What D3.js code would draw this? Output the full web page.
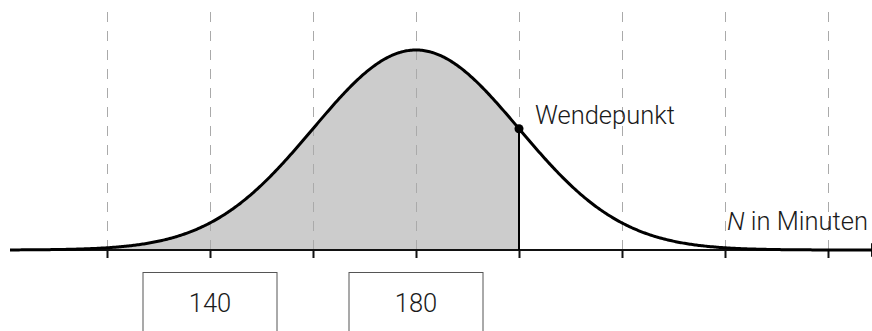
<!DOCTYPE html>
<html>
<head>
<meta charset="utf-8">
<script src="https://cdn.jsdelivr.net/npm/d3@7/dist/d3.min.js"></script>
<style>
  body { margin: 0; background: #fff; }
  text { font-family: Roboto, "Liberation Sans", sans-serif; font-weight: 300; fill: #1a1a1a; }
</style>
</head>
<body>
<div id="chart"></div>
<script>
// Data
var tickValues = [120, 140, 160, 180, 200, 220, 240, 260];
var boxLabels = [140, 180];
var mu = 180;
var sigma = 20;
var inflection = 200;
var axisLabel = 'in Minuten';
var pointLabel = 'Wendepunkt';

var width = 872;
var height = 331;
var axisY = 250;
var fontSize = 25.5;

var svg = d3.select('#chart')
    .append('svg')
    .attr('width', width)
    .attr('height', height);

// Scales
var scaleX = d3.scaleLinear()
    .domain([120, 260])
    .range([107, 828]);
var density = function(v) {
  return Math.exp(-0.5 * Math.pow((v - mu) / sigma, 2)) / (sigma * Math.sqrt(2 * Math.PI));
};
var scaleY = d3.scaleLinear()
    .domain([0, density(mu)])
    .range([axisY, 50]);

var xMin = scaleX.invert(10);
var xMax = scaleX.invert(width + 2);
var curveData = d3.range(xMin, xMax, 0.25).concat([xMax]);

// Shaded area up to the inflection point
var shade = curveData.filter(function(d) { return d <= inflection; }).concat([inflection]);
svg.append('path')
    .datum(shade)
    .attr('d', d3.area()
        .x(function(d) { return scaleX(d); })
        .y0(axisY)
        .y1(function(d) { return scaleY(density(d)); }))
    .attr('fill', '#cccccc');

// Dashed grid
var grid = d3.axisBottom(scaleX)
    .tickValues(tickValues)
    .tickSize(-(axisY - 9))
    .tickSizeOuter(0)
    .tickFormat('');
svg.append('g')
    .attr('class', 'grid')
    .attr('transform', 'translate(0,' + axisY + ')')
    .call(grid)
    .call(function(g) { g.select('.domain').remove(); })
    .selectAll('line')
    .attr('stroke', '#aaaaaa')
    .attr('stroke-width', 1)
    .attr('stroke-dasharray', '10,9');

// Axis ticks
var axis = d3.axisBottom(scaleX)
    .tickValues(tickValues)
    .tickSize(8)
    .tickSizeOuter(0)
    .tickFormat('');
svg.append('g')
    .attr('transform', 'translate(0,' + axisY + ')')
    .call(axis)
    .call(function(g) { g.select('.domain').remove(); })
    .selectAll('line')
    .attr('stroke', '#111')
    .attr('stroke-width', 2);

// Axis line with arrow (mostly outside the frame)
svg.append('line')
    .attr('x1', 10)
    .attr('x2', width + 4)
    .attr('y1', axisY)
    .attr('y2', axisY)
    .attr('stroke', '#111')
    .attr('stroke-width', 2);
svg.append('path')
    .attr('d', 'M' + (width + 12) + ',' + axisY + 'L' + (width - 1) + ',' + (axisY - 7) +
        'L' + (width - 1) + ',' + (axisY + 7) + 'Z')
    .attr('fill', '#111');

// Curve
svg.append('path')
    .datum(curveData)
    .attr('d', d3.line()
        .x(function(d) { return scaleX(d); })
        .y(function(d) { return scaleY(density(d)); }))
    .attr('fill', 'none')
    .attr('stroke', '#000')
    .attr('stroke-width', 3);

// Inflection point
svg.append('line')
    .attr('x1', scaleX(inflection))
    .attr('x2', scaleX(inflection))
    .attr('y1', scaleY(density(inflection)))
    .attr('y2', axisY)
    .attr('stroke', '#000')
    .attr('stroke-width', 2);
svg.append('circle')
    .attr('cx', scaleX(inflection))
    .attr('cy', scaleY(density(inflection)))
    .attr('r', 4.5)
    .attr('fill', '#000');
svg.append('text')
    .attr('x', scaleX(inflection) + 16)
    .attr('y', 124)
    .attr('font-size', fontSize)
    .text(pointLabel);

// Axis label
var lab = svg.append('text')
    .attr('x', 727)
    .attr('y', 230)
    .attr('font-size', fontSize);
lab.append('tspan').attr('font-style', 'italic').text('N');
lab.append('tspan').text(' ' + axisLabel);

// Boxes
var boxW = 134;
var boxes = svg.selectAll('.box')
    .data(boxLabels)
    .enter()
    .append('g')
    .attr('class', 'box');
boxes.append('rect')
    .attr('x', function(d) { return scaleX(d) - boxW / 2; })
    .attr('y', 272.5)
    .attr('width', boxW)
    .attr('height', 80)
    .attr('fill', 'none')
    .attr('stroke', '#555')
    .attr('stroke-width', 1);
boxes.append('text')
    .attr('x', function(d) { return scaleX(d); })
    .attr('y', 312)
    .attr('text-anchor', 'middle')
    .attr('font-size', fontSize)
    .text(function(d) { return d; });
</script>
</body>
</html>
